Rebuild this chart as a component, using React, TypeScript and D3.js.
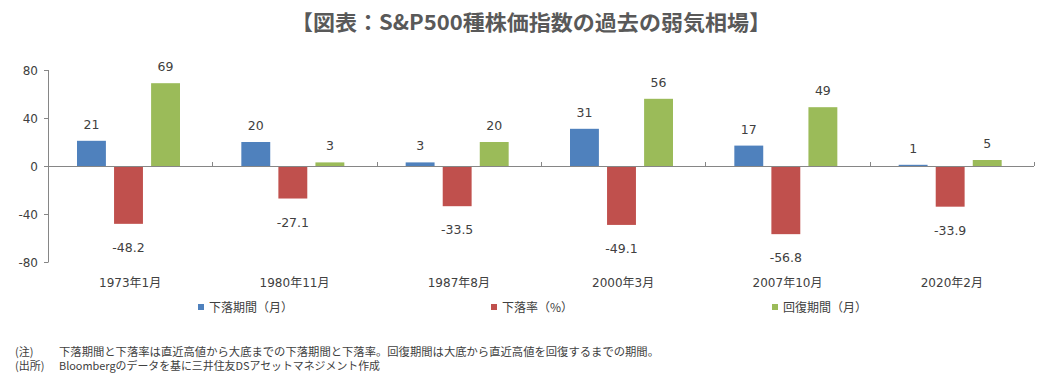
import React from "react";
import * as d3 from "d3";

const categories = ["1973年1月", "1980年11月", "1987年8月", "2000年3月", "2007年10月", "2020年2月"];
const seriesNames = ["下落期間（月）", "下落率（%）", "回復期間（月）"];
const downMonths = [21, 20, 3, 31, 17, 1];
const downRate = [-48.2, -27.1, -33.5, -49.1, -56.8, -33.9];
const recoveryMonths = [69, 3, 20, 56, 49, 5];
const yTicks = [-80, -40, 0, 40, 80];
const colors = ["#4F81BD", "#C0504D", "#9BBB59"];

const W = 1059;
const H = 381;
const TEXT = "#404040";
const AXIS = "#868686";
const NUM_FONT = "'DejaVu Sans', 'Noto Sans CJK JP', sans-serif";
const JP_FONT = "'Noto Sans CJK JP', sans-serif";

export default function App() {
  const series = [downMonths, downRate, recoveryMonths];
  const x = d3.scaleBand<string>().domain(categories).range([48, 1034]);
  const y = d3.scaleLinear().domain([-80, 80]).range([262, 70]);
  const inner = d3.scaleBand<number>().domain([0, 1, 2]).range([0, 103]).paddingInner(0.22);
  const groupOffset = 29;
  const fmt = (v: number) => (Number.isInteger(v) ? String(v) : v.toFixed(1));
  const legendX = [198, 491, 772];

  return (
    <svg width={W} height={H} style={{ position: "absolute", left: 0, top: 0, background: "#fff" }}>
      <text
        x={531}
        y={30}
        textAnchor="middle"
        fontFamily={JP_FONT}
        fontWeight={700}
        fontSize={21}
        fill="#595959"
        textLength={480}
        lengthAdjust="spacingAndGlyphs"
      >
        【図表：S&amp;P500種株価指数の過去の弱気相場】
      </text>

      {/* y axis */}
      <line x1={48.5} x2={48.5} y1={y(80)} y2={y(-80)} stroke={AXIS} />
      {yTicks.map((t) => (
        <g key={t}>
          <line x1={44} x2={48.5} y1={Math.round(y(t)) + 0.5} y2={Math.round(y(t)) + 0.5} stroke={AXIS} />
          <text x={38} y={y(t) + 4.5} textAnchor="end" fontFamily={NUM_FONT} fontSize={12} fill={TEXT}>
            {t}
          </text>
        </g>
      ))}

      {/* bars */}
      {categories.map((c, i) => (
        <g key={c}>
          {series.map((s, k) => {
            const v = s[i];
            const bx = (x(c) as number) + groupOffset + (inner(k) as number);
            const top = Math.min(y(v), y(0));
            const h = Math.abs(y(v) - y(0));
            return (
              <g key={k}>
                <rect x={bx} y={top} width={inner.bandwidth()} height={h} fill={colors[k]} />
                <text
                  x={bx + inner.bandwidth() / 2}
                  y={v >= 0 ? y(v) - 12 : y(v) + 28}
                  textAnchor="middle"
                  fontFamily={NUM_FONT}
                  fontSize={12.5}
                  fill={TEXT}
                >
                  {fmt(v)}
                </text>
              </g>
            );
          })}
          <text
            x={(x(c) as number) + x.bandwidth() / 2}
            y={287}
            textAnchor="middle"
            fontFamily={NUM_FONT}
            fontSize={12}
            fill={TEXT}
          >
            {c}
          </text>
        </g>
      ))}

      {/* x axis at zero */}
      <line x1={48} x2={1034} y1={Math.round(y(0)) + 0.5} y2={Math.round(y(0)) + 0.5} stroke={AXIS} />
      {d3.range(1, categories.length + 1).map((k) => {
        const tx = Math.round(48 + x.step() * k) + 0.5;
        return <line key={k} x1={tx} x2={tx} y1={y(0) - 4} y2={y(0)} stroke={AXIS} />;
      })}

      {/* legend */}
      {seriesNames.map((n, k) => {
        const lx = legendX[k];
        return (
          <g key={n}>
            <rect x={lx} y={304} width={6} height={6} fill={colors[k]} />
            <text x={lx + 11} y={312} fontFamily={JP_FONT} fontSize={12} fill={TEXT}>
              {n}
            </text>
          </g>
        );
      })}

      {/* notes */}
      <text x={15} y={356} fontFamily={JP_FONT} fontSize={11} fill={TEXT}>(注)</text>
      <text x={59} y={356} fontFamily={JP_FONT} fontSize={11} fill={TEXT} textLength={600} lengthAdjust="spacingAndGlyphs">
        下落期間と下落率は直近高値から大底までの下落期間と下落率。回復期間は大底から直近高値を回復するまでの期間。
      </text>
      <text x={15} y={370} fontFamily={JP_FONT} fontSize={11} fill={TEXT}>(出所)</text>
      <text x={59} y={370} fontFamily={JP_FONT} fontSize={11} fill={TEXT} textLength={321} lengthAdjust="spacingAndGlyphs">
        Bloombergのデータを基に三井住友DSアセットマネジメント作成
      </text>
    </svg>
  );
}
